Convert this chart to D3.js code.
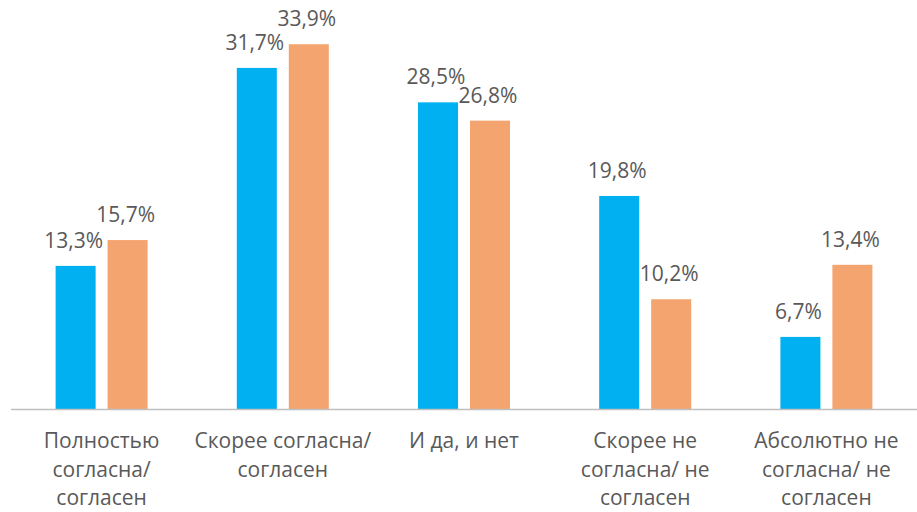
<!DOCTYPE html>
<meta charset="utf-8">
<style>
body { margin: 0; background: #fff; }
text { font-family: "Open Sans", "Noto Sans", sans-serif; fill: #595959; }
</style>
<svg width="917" height="512"></svg>
<script src="https://d3js.org/d3.v7.min.js"></script>
<script>
var categories = ["Полностью\nсогласна/\nсогласен", "Скорее согласна/\nсогласен", "И да, и нет", "Скорее не\nсогласна/ не\nсогласен", "Абсолютно не\nсогласна/ не\nсогласен"];
var series = ["s1", "s2"];
var values1 = [13.3, 31.7, 28.5, 19.8, 6.7];
var values2 = [15.7, 33.9, 26.8, 10.2, 13.4];
var colors = ["#00b0f0", "#f4a46e"];

var svg = d3.select("svg");
var base = 409;

var x0 = d3.scaleBand().domain(categories).range([11, 917]);
var x1 = d3.scaleBand().domain(series).range([-46, 46]).paddingInner(0.23);
var y = d3.scaleLinear().domain([0, 35]).range([base, base - 35 * 10.76]);

var fmt = function(v) { return v.toFixed(1).replace(".", ",") + "%"; };

var groups = svg.selectAll("g.grp")
  .data(categories)
  .enter().append("g")
  .attr("class", "grp")
  .attr("transform", function(d) { return "translate(" + (x0(d) + x0.bandwidth() / 2) + ",0)"; });

var bars = groups.selectAll("g.bar")
  .data(function(d, i) { return [{k: "s1", v: values1[i], c: colors[0]}, {k: "s2", v: values2[i], c: colors[1]}]; })
  .enter().append("g").attr("class", "bar");

bars.append("rect")
  .attr("x", function(d) { return x1(d.k); })
  .attr("y", function(d) { return y(d.v); })
  .attr("width", x1.bandwidth())
  .attr("height", function(d) { return base - y(d.v); })
  .attr("fill", function(d) { return d.c; });

bars.append("text")
  .attr("x", function(d) { return x1(d.k) + x1.bandwidth() / 2 - 2; })
  .attr("y", function(d) { return y(d.v) - 18; })
  .attr("text-anchor", "middle")
  .attr("font-size", 21)
  .text(function(d) { return fmt(d.v); });

svg.append("line")
  .attr("x1", 11).attr("x2", 917)
  .attr("y1", base + 0.5).attr("y2", base + 0.5)
  .attr("stroke", "#bfbfbf").attr("stroke-width", 1.5);

groups.append("text")
  .attr("text-anchor", "middle")
  .attr("font-size", 21)
  .selectAll("tspan")
  .data(function(d) { return d.split("\n"); })
  .enter().append("tspan")
  .attr("x", 0)
  .attr("y", function(d, i) { return 448 + i * 28.5; })
  .text(function(d) { return d; });
</script>
